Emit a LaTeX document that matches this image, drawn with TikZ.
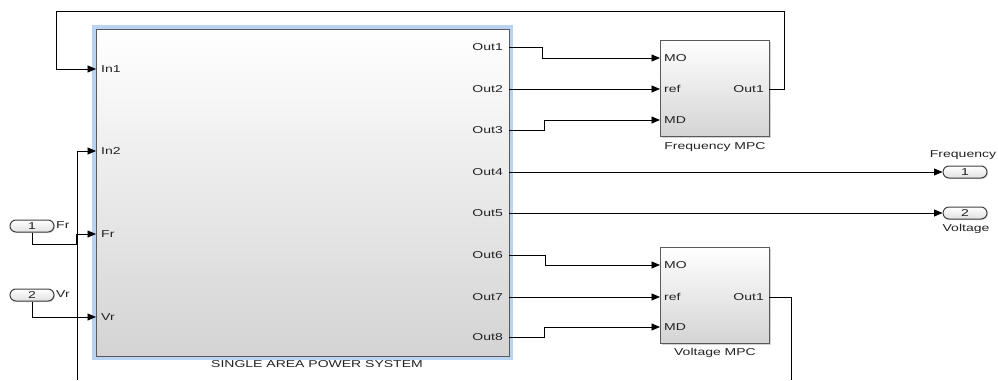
\documentclass[tikz,border=0pt]{standalone}
\usepackage{fontspec}
\newfontfamily\slf{Liberation Sans}[FakeStretch=1.4]
\usetikzlibrary{arrows.meta,shadows}
\definecolor{hl}{HTML}{B9D3F2}
\definecolor{bord}{HTML}{5A5A5A}
\definecolor{txt}{HTML}{222222}
\tikzset{
  blk/.style={draw=bord, line width=1pt, top color=white, bottom color=black!17, inner sep=0pt},
  mpc/.style={blk, minimum width=109pt, minimum height=96pt, drop shadow={shadow xshift=1.5pt, shadow yshift=-1.5pt, opacity=0.35}},
  port/.style={draw=black!75, line width=1pt, rounded corners=6pt, top color=white, bottom color=black!12, minimum width=44pt, minimum height=12pt, inner sep=0pt, font=\slf\fontsize{10}{11}\selectfont, text=txt, drop shadow={shadow xshift=1pt, shadow yshift=-1pt, opacity=0.3}},
  lbl/.style={inner sep=0pt, font=\slf\fontsize{10}{11}\selectfont, text=txt},
  wire/.style={draw=black, line width=0.8pt},
  arr/.style={wire, -{Triangle[length=8.5pt,width=7pt]}}
}
\begin{document}
\begin{tikzpicture}[x=1pt,y=-1pt]
\useasboundingbox (0,0) rectangle (998,380);
% main block
\node[blk, minimum width=413pt, minimum height=327pt, preaction={draw=hl, line width=8pt}] (sys) at (302.5,192.5) {};
\node[lbl, anchor=center] (syslbl) at (317,364) {SINGLE AREA POWER SYSTEM};
% ports of main block
\foreach \n/\y in {1/69,2/151} { \coordinate (in\n) at (96,\y); \node[lbl, anchor=west] (inl\n) at (101,\y) {In\n}; }
\coordinate (infr) at (96,234); \node[lbl, anchor=west] (inlfr) at (101,234) {Fr};
\coordinate (invr) at (96,317); \node[lbl, anchor=west] (inlvr) at (101,317) {Vr};
\foreach \n/\y in {1/47,2/89,3/130,4/172,5/213,6/255,7/297,8/337} { \coordinate (out\n) at (509,\y); \node[lbl, anchor=east] (outl\n) at (503,\y) {Out\n}; }
% Frequency MPC
\node[mpc] (fmpc) at (714.5,88.5) {};
\node[lbl] (fmpclbl) at (715,147) {Frequency MPC};
\node[lbl, anchor=west] (fmo) at (664,58) {MO};
\node[lbl, anchor=west] (fref) at (664,89) {ref};
\node[lbl, anchor=west] (fmd) at (664,120) {MD};
\node[lbl, anchor=east] (fout) at (764,89) {Out1};
\coordinate (fmoin) at (660,58); \coordinate (frefin) at (660,89); \coordinate (fmdin) at (660,120); \coordinate (fo) at (769,89);
% Voltage MPC
\node[mpc] (vmpc) at (714.5,295.5) {};
\node[lbl] (vmpclbl) at (715,353) {Voltage MPC};
\node[lbl, anchor=west] (vmo) at (664,265) {MO};
\node[lbl, anchor=west] (vref) at (664,297) {ref};
\node[lbl, anchor=west] (vmd) at (664,327) {MD};
\node[lbl, anchor=east] (vout) at (764,297) {Out1};
\coordinate (vmoin) at (660,265); \coordinate (vrefin) at (660,297); \coordinate (vmdin) at (660,327); \coordinate (vo) at (769,297);
% inports
\node[port] (ip1) at (32,226) {1};
\node[lbl, anchor=west] (ip1l) at (56,225) {Fr};
\node[port] (ip2) at (32,295) {2};
\node[lbl, anchor=west] (ip2l) at (56,294) {Vr};
% outports
\node[port] (op1) at (965,172) {1};
\node[lbl] (op1l) at (963,155) {Frequency};
\node[port] (op2) at (965,213) {2};
\node[lbl] (op2l) at (966,229) {Voltage};
\coordinate (bl) at (77,380);
\coordinate (br) at (791,380);
% wires
\draw[arr] (out1) -- (542,47) -- (542,58) -- (fmoin);
\draw[arr] (out2) -- (frefin);
\draw[arr] (out3) -- (544,130) -- (544,120) -- (fmdin);
\draw[arr] (out4) -- (op1.west);
\draw[arr] (out5) -- (op2.west);
\draw[arr] (out6) -- (545,255) -- (545,265) -- (vmoin);
\draw[arr] (out7) -- (vrefin);
\draw[arr] (out8) -- (544,337) -- (544,327) -- (vmdin);
\draw[arr] (fo) -- (784,89) -- (784,11) -- (56,11) -- (56,69) -- (in1);
\draw[wire] (vo) -- (791,297) -- (br);
\draw[arr] (bl) -- (77,151) -- (in2);
\draw[arr] (ip1.south) -- (32,244) -- (76,244) -- (76,234) -- (infr);
\draw[arr] (ip2.south) -- (32,317) -- (invr);
\end{tikzpicture}
\end{document}
